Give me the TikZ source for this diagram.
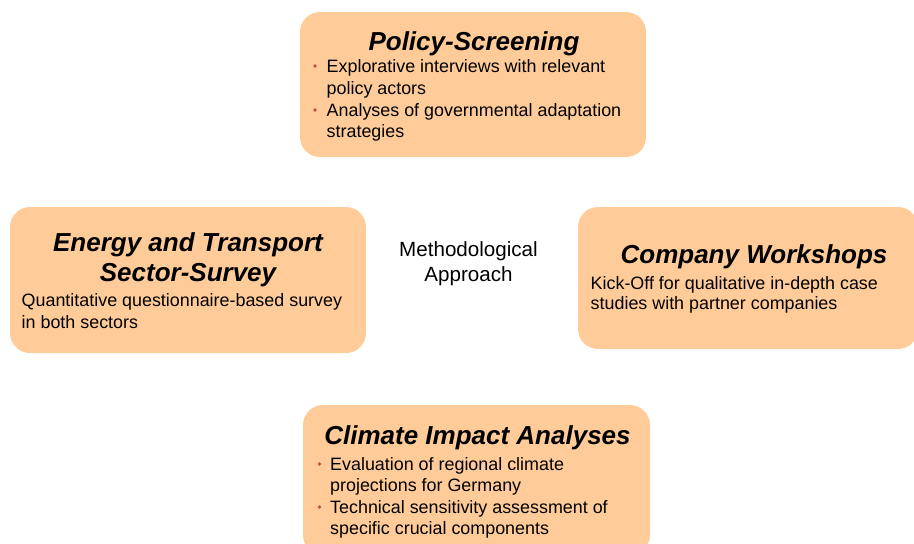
\documentclass[tikz,border=0pt]{standalone}
\usepackage{fontspec}
\setmainfont{Liberation Sans}
\definecolor{boxfill}{HTML}{FFCC99}
\definecolor{bulletred}{HTML}{C0504D}
\begin{document}
\begin{tikzpicture}[x=1pt,y=-1pt,
  box/.style={draw=none, fill=boxfill, rounded corners=20pt, inner sep=0pt},
  ttl/.style={inner sep=0pt, anchor=base, font=\fontsize{26}{30}\selectfont\bfseries\itshape},
  body/.style={inner sep=0pt, anchor=base west, font=\fontsize{17.9}{21}\selectfont},
  ctr/.style={inner sep=0pt, anchor=base, font=\fontsize{20.6}{25}\selectfont},
  bul/.style={circle, fill=bulletred, inner sep=0pt, minimum size=3.6pt}]
\useasboundingbox (0,0) rectangle (914,544);
% boxes
\node[box, minimum width=346pt, minimum height=145pt] (ps) at (473,84.5) {};
\node[box, minimum width=356pt, minimum height=146pt] (es) at (188,280) {};
\node[box, minimum width=340pt, minimum height=142pt] (cw) at (748,278) {};
\node[box, minimum width=347pt, minimum height=150pt] (ci) at (476.5,480) {};
% centre
\node[ctr] (m1) at (468.5,256) {Methodological};
\node[ctr] (m2) at (468.5,281.5) {Approach};
% Policy-Screening
\node[ttl] (pst) at (474,50) {Policy-Screening};
\node[bul] (pb1) at (315,66) {};
\node[body] (p1) at (326.5,72) {Explorative interviews with relevant};
\node[body] (p2) at (326.5,94) {policy actors};
\node[bul] (pb2) at (315,110) {};
\node[body] (p3) at (326.5,116) {Analyses of governmental adaptation};
\node[body] (p4) at (326.5,137.5) {strategies};
% Energy and Transport
\node[ttl] (est1) at (188,251.5) {Energy and Transport};
\node[ttl] (est2) at (188,281.5) {Sector-Survey};
\node[body] (e1) at (21.5,306.5) {Quantitative questionnaire-based survey};
\node[body] (e2) at (21.5,328) {in both sectors};
% Company Workshops
\node[ttl] (cwt) at (754,263) {Company Workshops};
\node[body] (c1) at (590.5,289) {Kick-Off for qualitative in-depth case};
\node[body] (c2) at (590.5,309.5) {studies with partner companies};
% Climate Impact
\node[ttl] (cit) at (477.5,444) {Climate Impact Analyses};
\node[bul] (cb1) at (319.5,464) {};
\node[body] (i1) at (330,470) {Evaluation of regional climate};
\node[body] (i2) at (330,491.5) {projections for Germany};
\node[bul] (cb2) at (319.5,507) {};
\node[body] (i3) at (330,513) {Technical sensitivity assessment of};
\node[body] (i4) at (330,534) {specific crucial components};
\end{tikzpicture}
\end{document}
